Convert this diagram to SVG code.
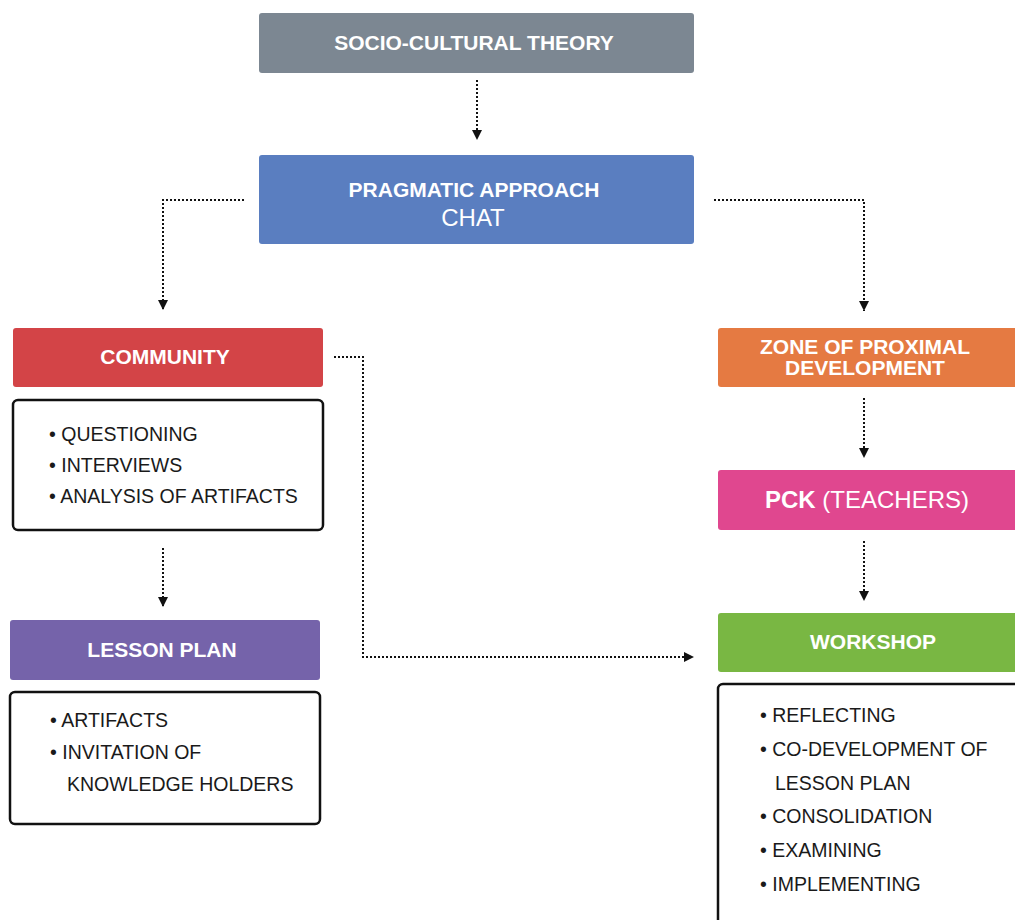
<svg xmlns="http://www.w3.org/2000/svg" width="1015" height="920" viewBox="0 0 1015 920">
  <style>
    .head { font-family: "Liberation Sans", Arial, sans-serif; font-weight: bold; font-size: 21px; fill: #ffffff; text-anchor: middle; }
    .sub { font-family: "Liberation Sans", Arial, sans-serif; font-size: 24px; fill: #ffffff; text-anchor: middle; }
    .item { font-family: "Liberation Sans", Arial, sans-serif; font-size: 19.5px; fill: #1a1a1a; }
    .list { fill: #ffffff; stroke: #111111; stroke-width: 2.5; }
    .link { fill: none; stroke: #111111; stroke-width: 2; stroke-dasharray: 2 2; }
  </style>
  <defs>
    <marker id="tip" viewBox="0 0 10 10" refX="10" refY="5" markerWidth="10" markerHeight="10" markerUnits="userSpaceOnUse" orient="auto">
      <path d="M0,0 L10,5 L0,10 Z" fill="#111111"/>
    </marker>
  </defs>
  <rect width="1015" height="920" fill="#ffffff"/>

  <!-- connectors -->
  <g id="connectors">
    <path class="link" d="M477,80 V140" marker-end="url(#tip)"/>
    <path class="link" d="M244,200 H163 V310" marker-end="url(#tip)"/>
    <path class="link" d="M714,200 H864 V311" marker-end="url(#tip)"/>
    <path class="link" d="M334,357 H363 V657 H694" marker-end="url(#tip)"/>
    <path class="link" d="M163,548 V607" marker-end="url(#tip)"/>
    <path class="link" d="M864,398 V458" marker-end="url(#tip)"/>
    <path class="link" d="M864,541 V601" marker-end="url(#tip)"/>
  </g>

  <g id="socio-cultural-theory">
    <rect x="259" y="13" width="435" height="60" rx="3" fill="#7c8792"/>
    <text class="head" x="474" y="50">SOCIO-CULTURAL THEORY</text>
  </g>

  <g id="pragmatic-approach">
    <rect x="259" y="155" width="435" height="89" rx="3" fill="#5a7ec0"/>
    <text class="head" x="474" y="197">PRAGMATIC APPROACH</text>
    <text class="sub" x="473" y="226">CHAT</text>
  </g>

  <g id="community">
    <rect x="13" y="328" width="310" height="59" rx="3" fill="#d34447"/>
    <text class="head" x="165" y="364">COMMUNITY</text>
  </g>

  <g id="community-list">
    <rect class="list" x="13" y="400" width="310" height="130" rx="5"/>
    <text class="item" x="49" y="441">• QUESTIONING</text>
    <text class="item" x="49" y="472">• INTERVIEWS</text>
    <text class="item" x="49" y="503">• ANALYSIS OF ARTIFACTS</text>
  </g>

  <g id="lesson-plan">
    <rect x="10" y="620" width="310" height="60" rx="3" fill="#7563aa"/>
    <text class="head" x="162" y="657">LESSON PLAN</text>
  </g>

  <g id="lesson-plan-list">
    <rect class="list" x="10" y="692" width="310" height="132" rx="5"/>
    <text class="item" x="50" y="727">• ARTIFACTS</text>
    <text class="item" x="50" y="759">• INVITATION OF</text>
    <text class="item" x="67" y="791">KNOWLEDGE HOLDERS</text>
  </g>

  <g id="zone-of-proximal-development">
    <rect x="718" y="328" width="310" height="59" rx="3" fill="#e57a42"/>
    <text class="head" x="865" y="354">ZONE OF PROXIMAL</text>
    <text class="head" x="865" y="375">DEVELOPMENT</text>
  </g>

  <g id="pck">
    <rect x="718" y="470" width="310" height="60" rx="3" fill="#e0478f"/>
    <text class="sub" x="867" y="508"><tspan font-weight="bold">PCK</tspan> (TEACHERS)</text>
  </g>

  <g id="workshop">
    <rect x="718" y="613" width="310" height="59" rx="3" fill="#79b743"/>
    <text class="head" x="873" y="649">WORKSHOP</text>
  </g>

  <g id="workshop-list">
    <rect class="list" x="718" y="684" width="310" height="250" rx="5"/>
    <text class="item" x="760" y="722">• REFLECTING</text>
    <text class="item" x="760" y="756">• CO-DEVELOPMENT OF</text>
    <text class="item" x="775" y="790">LESSON PLAN</text>
    <text class="item" x="760" y="823">• CONSOLIDATION</text>
    <text class="item" x="760" y="857">• EXAMINING</text>
    <text class="item" x="760" y="891">• IMPLEMENTING</text>
  </g>
</svg>
